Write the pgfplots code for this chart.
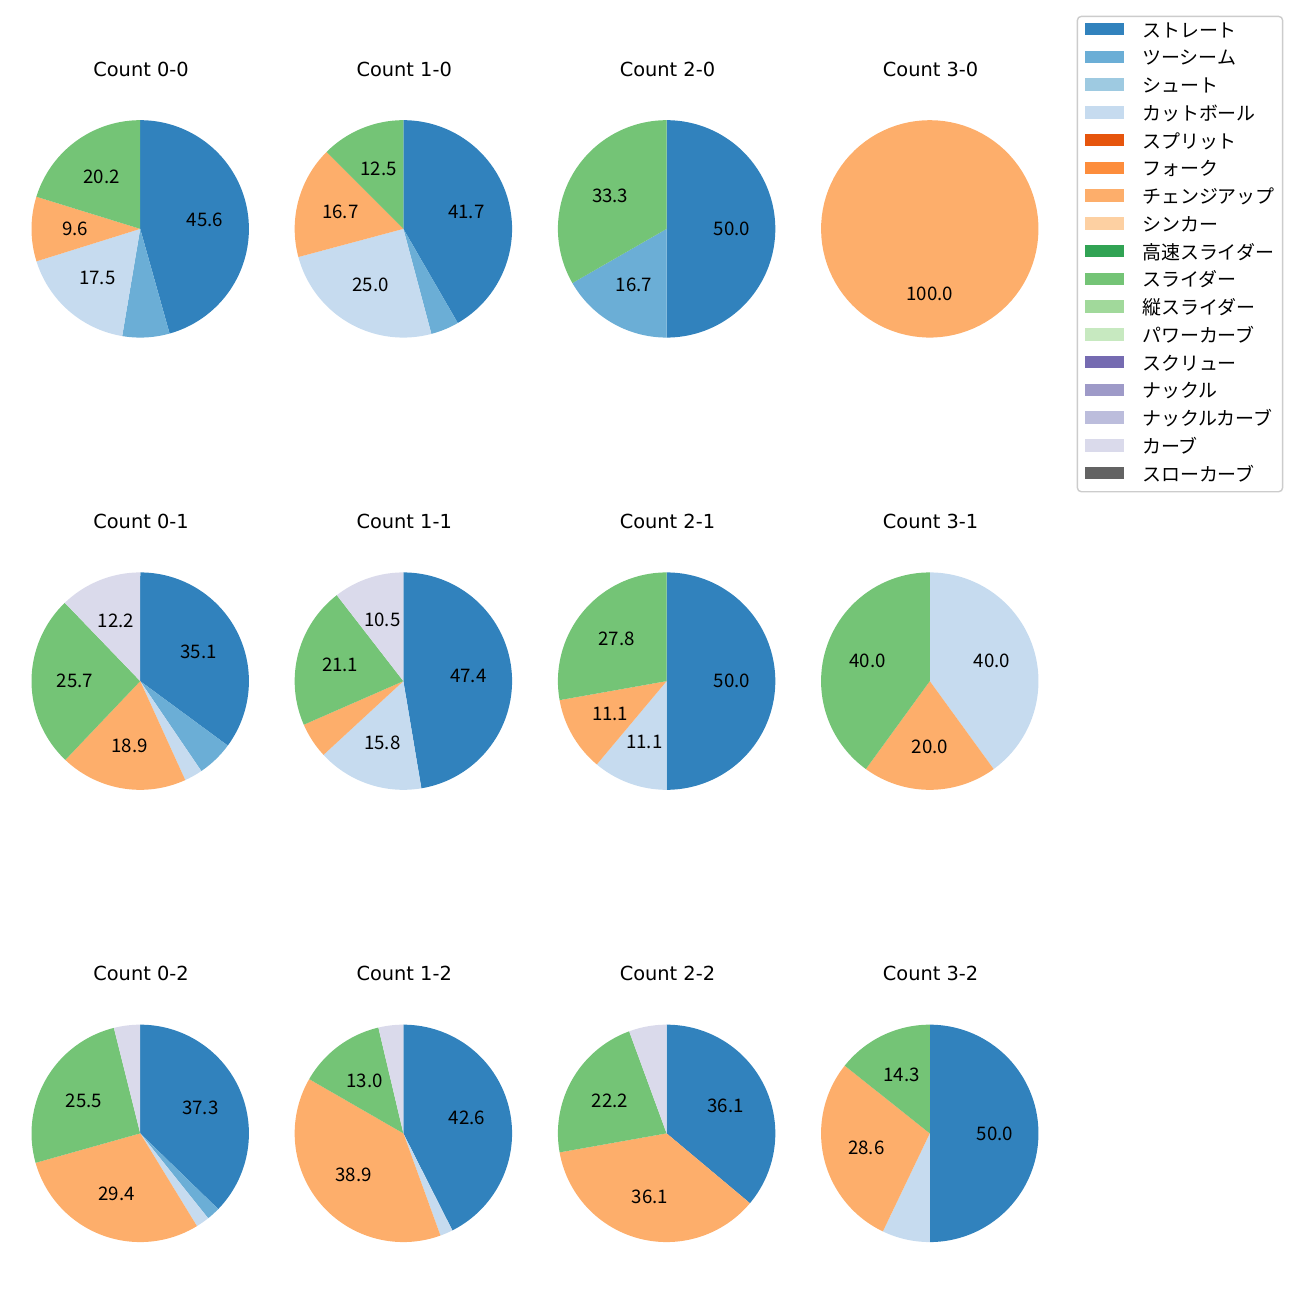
\documentclass[border=0pt]{standalone}
\usepackage{fontspec}
\setmainfont{Noto Sans CJK JP}
\newfontfamily\titlefamily{DejaVu Sans}
\usepackage{pgfplots}
\pgfplotsset{compat=1.18}
\definecolor{c1}{HTML}{3182BD}
\definecolor{c2}{HTML}{6BAED6}
\definecolor{c3}{HTML}{9ECAE1}
\definecolor{c4}{HTML}{C6DBEF}
\definecolor{c5}{HTML}{E6550D}
\definecolor{c6}{HTML}{FD8D3C}
\definecolor{c7}{HTML}{FDAE6B}
\definecolor{c8}{HTML}{FDD0A2}
\definecolor{c9}{HTML}{31A354}
\definecolor{c10}{HTML}{74C476}
\definecolor{c11}{HTML}{A1D99B}
\definecolor{c12}{HTML}{C7E9C0}
\definecolor{c13}{HTML}{756BB1}
\definecolor{c14}{HTML}{9E9AC8}
\definecolor{c15}{HTML}{BCBDDC}
\definecolor{c16}{HTML}{DADAEB}
\definecolor{c17}{HTML}{636363}
\newcommand\tf{\fontsize{13.7pt}{16pt}\selectfont}
\newcommand\lf{\fontsize{13.5pt}{16pt}\selectfont}
\newcommand\ttf{\titlefamily\fontsize{14pt}{16pt}\selectfont}
\tikzset{plabel/.style={font=\lf, inner sep=0pt, anchor=center}}
\pgfplotsset{pieaxis/.style={hide axis, scale only axis, width=2.174in, height=2.174in,
  xmin=-1, xmax=1, ymin=-1, ymax=1, clip=false, anchor=center}}
\newcommand\pie[4]{%
 \begin{axis}[pieaxis, at={({#1*0.01in},{-#2*0.01in})}]
 \xdef\pietot{0}%
 \foreach \v/\c in {#4} {\pgfmathsetmacro\tmpa{\pietot+\v}\xdef\pietot{\tmpa}}%
 \xdef\piecum{0}%
 \foreach \v/\c in {#4} {%
   \pgfmathsetmacro\sa{90-(\piecum/\pietot)*360}%
   \pgfmathsetmacro\ea{90-((\piecum+\v)/\pietot)*360}%
   \pgfmathsetmacro\ma{(\sa+\ea)/2}%
   \pgfmathsetmacro\lx{0.6*cos(\ma)}%
   \pgfmathsetmacro\ly{0.6*sin(\ma)}%
   \pgfmathtruncatemacro\showl{\v>=8}%
   \edef\tmp{\noexpand\addplot[draw=none, fill=\c, forget plot, domain=\ea:\sa, samples=100] ({cos(x)},{sin(x)}) -- (0,0) -- cycle;}%
   \tmp
   \ifnum\showl=1
     \edef\tmp{\noexpand\node[plabel] at (axis cs:\lx,\ly) {\v};}%
     \tmp
   \fi
   \pgfmathsetmacro\tmpa{\piecum+\v}%
   \xdef\piecum{\tmpa}%
 }%
 \end{axis}
 \node[font=\ttf, anchor=base, inner sep=0pt] at ({(#1+0.8)*0.01in},{-(#2-152.8)*0.01in}) {#3};
}
\begin{document}
\begin{tikzpicture}
\path[use as bounding box] (0,0) rectangle (13in,-13in);
% row 1
\pie{140.3}{229}{Count 0-0}{45.6/c1, 7.0/c2, 17.5/c4, 9.6/c7, 20.2/c10}
\pie{403.6}{229}{Count 1-0}{41.7/c1, 4.2/c2, 25.0/c4, 16.7/c7, 12.5/c10}
\pie{667}{229}{Count 2-0}{50.0/c1, 16.7/c2, 33.3/c10}
\pie{930.3}{229}{Count 3-0}{100.0/c7}
% row 2
\pie{140.3}{681.5}{Count 0-1}{35.1/c1, 5.4/c2, 2.7/c4, 18.9/c7, 25.7/c10, 12.2/c16}
\pie{403.6}{681.5}{Count 1-1}{47.4/c1, 15.8/c4, 5.3/c7, 21.1/c10, 10.5/c16}
\pie{667}{681.5}{Count 2-1}{50.0/c1, 11.1/c4, 11.1/c7, 27.8/c10}
\pie{930.3}{681.5}{Count 3-1}{40.0/c4, 20.0/c7, 40.0/c10}
% row 3
\pie{140.3}{1134}{Count 0-2}{37.3/c1, 2.0/c2, 2.0/c4, 29.4/c7, 25.5/c10, 3.9/c16}
\pie{403.6}{1134}{Count 1-2}{42.6/c1, 1.9/c4, 38.9/c7, 13.0/c10, 3.7/c16}
\pie{667}{1134}{Count 2-2}{36.1/c1, 36.1/c7, 22.2/c10, 5.6/c16}
\pie{930.3}{1134}{Count 3-2}{50.0/c1, 7.1/c4, 28.6/c7, 14.3/c10}
% legend
\begin{axis}[hide axis, scale only axis, width=1in, height=1in,
  xmin=0, xmax=1, ymin=0, ymax=1,
  at={(10.767in,-0.157in)}, anchor=north west,
  legend cell align=left,
  legend image code/.code={\path[#1, sharp corners] (0pt,-2.2pt) rectangle (28pt,6.8pt);},
  legend style={at={(0,1)}, anchor=north west, draw=black!20, line width=1pt,
    rounded corners=2.8pt, fill=white, inner xsep=5.6pt, inner ysep=4.7pt,
    font=\tf, row sep=6.75pt,
    nodes={inner sep=0pt, text height=10pt, text depth=3pt},
    /tikz/every odd column/.append style={column sep=13.2pt}}]
\addlegendimage{fill=c1, draw=none}\addlegendentry{ストレート}
\addlegendimage{fill=c2, draw=none}\addlegendentry{ツーシーム}
\addlegendimage{fill=c3, draw=none}\addlegendentry{シュート}
\addlegendimage{fill=c4, draw=none}\addlegendentry{カットボール}
\addlegendimage{fill=c5, draw=none}\addlegendentry{スプリット}
\addlegendimage{fill=c6, draw=none}\addlegendentry{フォーク}
\addlegendimage{fill=c7, draw=none}\addlegendentry{チェンジアップ}
\addlegendimage{fill=c8, draw=none}\addlegendentry{シンカー}
\addlegendimage{fill=c9, draw=none}\addlegendentry{高速スライダー}
\addlegendimage{fill=c10, draw=none}\addlegendentry{スライダー}
\addlegendimage{fill=c11, draw=none}\addlegendentry{縦スライダー}
\addlegendimage{fill=c12, draw=none}\addlegendentry{パワーカーブ}
\addlegendimage{fill=c13, draw=none}\addlegendentry{スクリュー}
\addlegendimage{fill=c14, draw=none}\addlegendentry{ナックル}
\addlegendimage{fill=c15, draw=none}\addlegendentry{ナックルカーブ}
\addlegendimage{fill=c16, draw=none}\addlegendentry{カーブ}
\addlegendimage{fill=c17, draw=none}\addlegendentry{スローカーブ}
\end{axis}
\end{tikzpicture}
\end{document}
